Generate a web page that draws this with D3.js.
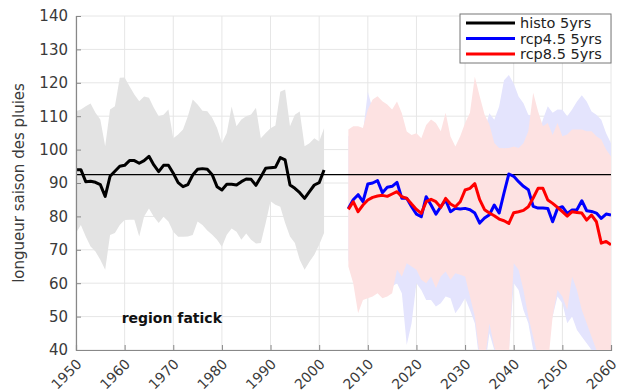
<!DOCTYPE html>
<html>
<head>
<meta charset="utf-8">
<script src="https://cdn.jsdelivr.net/npm/d3@7"></script>
<style>
  body { margin: 0; background: #fff; }
  svg text { font-family: "DejaVu Sans", sans-serif; }
</style>
</head>
<body>
<svg id="chart" width="620" height="392"></svg>
<script>
// ---- data: rainy-season length, 5-year smoothed ----
const histStart = 1950;
const histMean = [
  94, 94, 90.4, 90.5, 90.2, 89.5, 86, 92, 93.5, 95,
  95.3, 96.7, 96.7, 95.9, 96.7, 98, 95.4, 93.4, 95.3, 95.3,
  92.9, 90.1, 88.9, 89.5, 92.4, 94.1, 94.3, 94.1, 92.5, 88.9,
  87.9, 89.6, 89.6, 89.4, 90.4, 91.2, 91.1, 89.3, 91.8, 94.4,
  94.6, 94.7, 97.6, 96.9, 89.4, 88.4, 87.1, 85.4, 87.4, 89.4,
  90.1, 93.9
];
const histUpper = [
  111.5, 112, 113, 113.8, 111, 109, 101, 112, 113, 121.5,
  121.6, 119, 116.5, 114.5, 115.9, 115.5, 112.5, 110, 110.4, 112,
  103.4, 104.5, 106, 110, 115, 113.5, 111.6, 111.5, 109.5, 106.5,
  101.9, 105, 112.9, 107, 109, 110, 110.5, 112.5, 103.4, 105,
  106.4, 107.2, 117.3, 118, 107, 110.4, 111.4, 101, 101.9, 103.4,
  102.4, 106.4
];
const histLower = [
  75, 77.4, 74, 71, 69.5, 67, 64, 74.4, 75, 77.4,
  78.9, 79, 79, 74, 80, 82.4, 79.9, 78, 79.9, 78.5,
  75.4, 73.9, 73.9, 74, 74.4, 78.5, 77.4, 75.8, 74.5, 73,
  70.9, 74.5, 76.4, 75.4, 73, 74.9, 73, 71.9, 72, 78,
  84.5, 83.5, 82.9, 78, 74, 72, 67, 64, 66.4, 68.5,
  71.5, 75
];

const projStart = 2006;
const rcp45Mean = [
  82.4, 85, 86.5, 84.4, 89.7, 90, 90.7, 87.1, 88.7, 89,
  90.2, 85.4, 85.4, 82.9, 80.7, 79.9, 85.9, 83.4, 80.7, 82.9,
  84.9, 81.4, 82.4, 82.2, 82.4, 82, 81, 78, 79.5, 80.5,
  83.4, 81, 87, 92.7, 92, 90.4, 89, 88, 83, 82.5,
  82.5, 82.4, 78.4, 82.4, 82.9, 80.9, 81.9, 82, 84.7, 81.7,
  81.5, 81, 79.4, 80.7, 80.4
];
const rcp45Upper = [
  104, 105, 105, 105, 117.3, 112, 113, 112, 110, 108,
  110, 106, 103, 102, 101, 102, 104, 106, 104, 103,
  106, 100, 99, 101, 104, 106, 110, 108, 106, 110.9,
  108.9, 112.9, 120.8, 122.3, 119.8, 115.9, 113.9, 110.4, 110, 104,
  109, 113, 111, 112, 111.9, 110, 112, 114.4, 116.3, 114.4,
  111.4, 110.4, 108.9, 104.9, 101.9
];
const rcp45Lower = [
  67, 62, 53, 57, 57.5, 58, 59, 57.5, 58, 59,
  60, 57, 41.5, 48, 60, 58, 55, 55, 53, 54,
  56, 55.5, 51, 53, 55.5, 52, 48, 36, 34, 45,
  40, 35, 34, 40, 60, 58, 52, 48, 40, 37,
  38, 45, 50, 56, 54, 48, 50, 46, 44, 42,
  40, 38, 35, 34, 37
];
const rcp85Mean = [
  82.1, 84.4, 81.4, 83.4, 84.9, 85.7, 86.1, 86.3, 86, 86.7,
  87.4, 85.9, 85.4, 83.7, 82.1, 80.9, 84.4, 85.1, 84.4, 82.7,
  85.4, 83.7, 82.9, 84.4, 87.9, 88.4, 89.8, 85, 82, 81,
  80.2, 79.2, 78.7, 77.9, 81.1, 81.4, 81.8, 82.9, 85.5, 88.4,
  88.4, 84.9, 83.9, 82.7, 81.4, 80.1, 81.4, 81.2, 81, 78.9,
  80.4, 78.4, 72, 72.5, 71.5
];
const rcp85Upper = [
  106, 107, 107, 106.5, 112, 115, 116, 114.5, 113.5, 112,
  114.4, 110.9, 105.4, 104.4, 104.9, 103.4, 107.4, 109, 108, 105.5,
  111, 103.9, 100.9, 104, 108, 111, 121.8, 116, 110.5, 107.5,
  102, 100.5, 100.4, 100.5, 100.9, 100.5, 101.9, 105.5, 117, 111.5,
  107, 108, 104.4, 108, 104, 104.5, 106, 106, 106, 105.5,
  105.5, 104, 103, 100, 97.9
];
const rcp85Lower = [
  65, 60, 51, 55, 55.5, 56, 57, 55.5, 56, 57,
  64, 62, 66, 65, 64, 61, 60, 62, 58.5, 62,
  63.5, 61, 63, 62.5, 62, 56, 50, 38, 36, 48,
  41, 36, 35, 38, 66, 64, 58, 50, 44, 38,
  36, 35, 50, 58, 56, 52, 62, 58, 52, 48,
  44, 40, 36, 35, 38
];

const refLevel = 92.5;
const yTicks = d3.range(40, 141, 10);
const xTicks = d3.range(1950, 2061, 10);
const legendLabels = ["histo 5yrs", "rcp4.5 5yrs", "rcp8.5 5yrs"];
const regionLabel = "region fatick";
const yTitle = "longueur saison des pluies";

// ---- layout ----
const W = 620, H = 392;
const m = { left: 76, right: 9, top: 16, bottom: 42 };
const svg = d3.select("#chart");

const x = d3.scaleLinear().domain([1950, 2060]).range([m.left, W - m.right]);
const y = d3.scaleLinear().domain([40, 140]).range([H - m.bottom, m.top]);

const toSeries = (start, mean, lo, hi) =>
  mean.map((v, i) => ({ year: start + i, mean: v, lo: lo ? lo[i] : null, hi: hi ? hi[i] : null }));

const hist = toSeries(histStart, histMean, histLower, histUpper);
const r45 = toSeries(projStart, rcp45Mean, rcp45Lower, rcp45Upper);
const r85 = toSeries(projStart, rcp85Mean, rcp85Lower, rcp85Upper);

svg.append("defs").append("clipPath").attr("id", "plotClip")
  .append("rect")
  .attr("x", x(1950)).attr("y", y(140))
  .attr("width", x(2060) - x(1950)).attr("height", y(40) - y(140));

// grid
const grid = svg.append("g");
grid.selectAll("line.gy").data(yTicks).join("line")
  .attr("x1", x(1950)).attr("x2", x(2060))
  .attr("y1", d => y(d)).attr("y2", d => y(d))
  .attr("stroke", "#e6e6e6").attr("stroke-width", 1);
grid.selectAll("line.gx").data(xTicks).join("line")
  .attr("y1", y(40)).attr("y2", y(140))
  .attr("x1", d => x(d)).attr("x2", d => x(d))
  .attr("stroke", "#e6e6e6").attr("stroke-width", 1);

const plot = svg.append("g").attr("clip-path", "url(#plotClip)");

const band = d3.area().x(d => x(d.year)).y0(d => y(d.lo)).y1(d => y(d.hi));
const line = d3.line().x(d => x(d.year)).y(d => y(d.mean));

plot.append("path").datum(hist).attr("d", band).attr("fill", "#e3e3e3");
plot.append("path").datum(r45).attr("d", band).attr("fill", "#e4e4fd");
plot.append("path").datum(r85).attr("d", band).attr("fill", "#fde2e2");

// reference level
plot.append("line")
  .attr("x1", x(1950)).attr("x2", x(2060))
  .attr("y1", y(refLevel)).attr("y2", y(refLevel))
  .attr("stroke", "#000").attr("stroke-width", 1.3);

plot.append("path").datum(hist).attr("d", line)
  .attr("fill", "none").attr("stroke", "#000").attr("stroke-width", 3).attr("stroke-linejoin", "round");
plot.append("path").datum(r45).attr("d", line)
  .attr("fill", "none").attr("stroke", "#0000ff").attr("stroke-width", 3).attr("stroke-linejoin", "round");
plot.append("path").datum(r85).attr("d", line)
  .attr("fill", "none").attr("stroke", "#ff0000").attr("stroke-width", 3).attr("stroke-linejoin", "round");

// axes
const axisColor = "#888";
const yAxis = svg.append("g").attr("transform", `translate(${x(1950)},0)`)
  .call(d3.axisLeft(y).tickValues(yTicks).tickSize(-5).tickPadding(8));
const xAxis = svg.append("g").attr("transform", `translate(0,${y(40)})`)
  .call(d3.axisBottom(x).tickValues(xTicks).tickSize(-5).tickFormat(d3.format("d")).tickPadding(0));
[yAxis, xAxis].forEach(g => {
  g.select(".domain").attr("stroke", axisColor).attr("stroke-width", 1.2);
  g.selectAll(".tick line").attr("stroke", axisColor);
  g.selectAll("text").attr("fill", "#3a3a3a").style("font-size", "15px");
});
xAxis.selectAll(".tick text")
  .attr("text-anchor", "end")
  .attr("dy", null).attr("y", null)
  .style("font-size", "14px")
  .attr("transform", "translate(6,15) rotate(-45)");

// y title
svg.append("text")
  .attr("transform", `translate(24,${(y(40) + y(140)) / 2}) rotate(-90)`)
  .attr("text-anchor", "middle")
  .attr("fill", "#3a3a3a")
  .style("font-size", "15px")
  .text(yTitle);

// region label
svg.append("text")
  .attr("x", x(1960) - 3).attr("y", y(50) + 6)
  .attr("font-weight", "bold").attr("fill", "#111")
  .style("font-size", "14px")
  .text(regionLabel);

// legend
const legColors = ["#000", "#0000ff", "#ff0000"];
const leg = svg.append("g").attr("transform", "translate(460,14)");
leg.append("rect").attr("width", 151).attr("height", 49)
  .attr("fill", "#fff").attr("stroke", "#777").attr("stroke-width", 1);
legendLabels.forEach((lab, i) => {
  const ly = 9 + i * 15.5;
  leg.append("line").attr("x1", 6).attr("x2", 55).attr("y1", ly).attr("y2", ly)
    .attr("stroke", legColors[i]).attr("stroke-width", 3);
  leg.append("text").attr("x", 60).attr("y", ly + 5)
    .attr("fill", "#222").style("font-size", "14.5px").text(lab);
});
</script>
</body>
</html>
